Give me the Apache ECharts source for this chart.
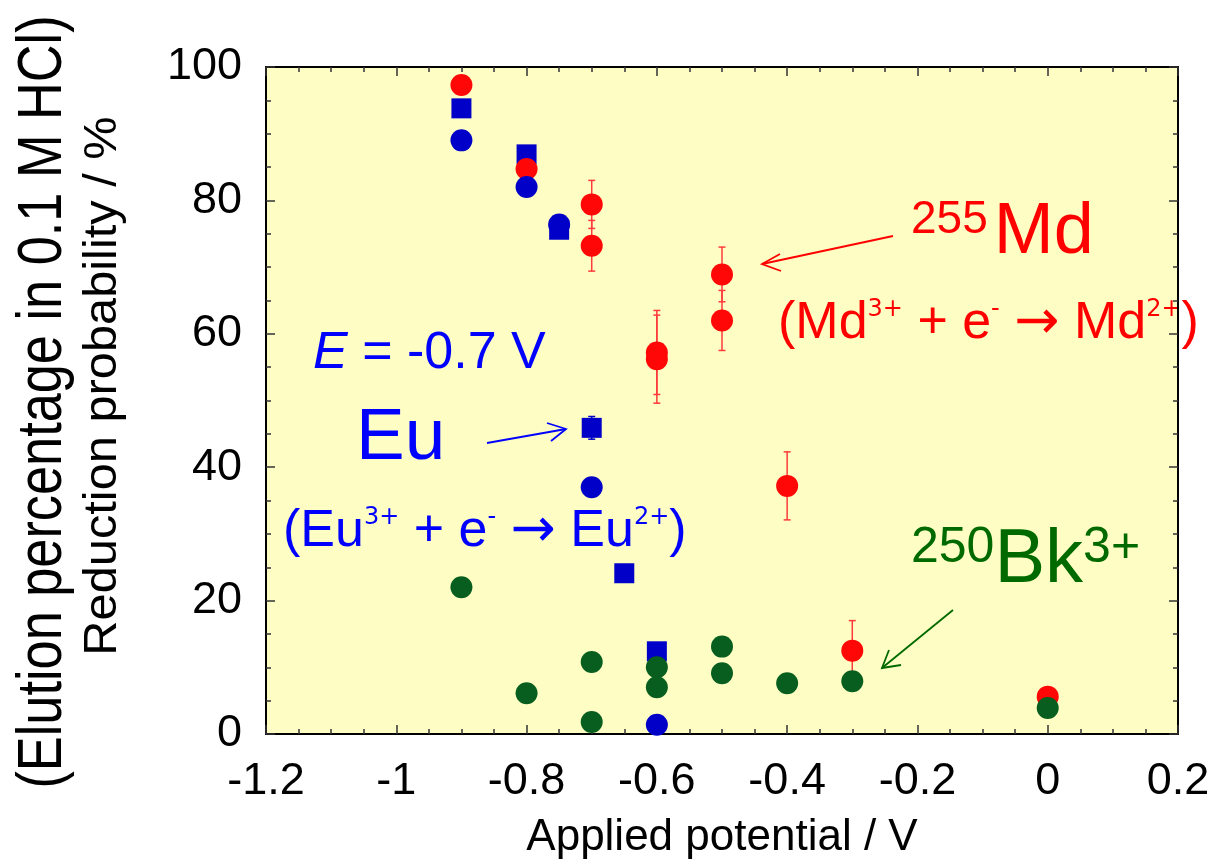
<!DOCTYPE html>
<html>
<head>
<meta charset="utf-8">
<script src="https://cdn.jsdelivr.net/npm/echarts@6/dist/echarts.min.js"></script>
<style>
  html, body { margin: 0; padding: 0; background: #fff; }
  #main { width: 1219px; height: 866px; }
</style>
</head>
<body>
<div id="main"></div>
<script>
// 255Md reduction probability (red circles, with error bars)
var mdX = [-0.9, -0.8, -0.7, -0.7, -0.6, -0.6, -0.5, -0.5, -0.4, -0.3, 0];
var mdY = [97.3, 84.7, 79.4, 73.2, 57.2, 56.2, 68.9, 62.0, 37.2, 12.5, 5.6];
var mdErr = [0, 0, 3.6, 3.8, 6.3, 6.6, 4.1, 4.5, 5.1, 4.5, 0];

// Eu (blue squares, blue circles)
var euSqX = [-0.9, -0.8, -0.75, -0.7, -0.65, -0.6];
var euSqY = [93.8, 86.9, 75.6, 45.9, 24.1, 12.4];
var euSqErr = [0, 0, 0, 1.7, 0, 0];
var euCiX = [-0.9, -0.8, -0.75, -0.7, -0.6];
var euCiY = [89.0, 82.0, 76.4, 37.0, 1.4];

// 250Bk3+ (green circles)
var bkX = [-0.9, -0.8, -0.7, -0.7, -0.6, -0.6, -0.5, -0.5, -0.4, -0.3, 0];
var bkY = [22.0, 6.1, 10.8, 1.8, 10.0, 7.0, 13.1, 9.1, 7.6, 7.9, 3.9];

var FONT = 'Liberation Sans, Arial, sans-serif';

function pairs(xs, ys) {
	return xs.map(function (x, i) { return [x, ys[i]]; });
}
function errData(xs, ys, es) {
	var out = [];
	xs.forEach(function (x, i) {
		if (es[i] > 0) out.push([x, ys[i] - es[i], ys[i] + es[i]]);
	});
	return out;
}
function errorBar(color) {
	return function (params, api) {
		var lo = api.coord([api.value(0), api.value(1)]);
		var hi = api.coord([api.value(0), api.value(2)]);
		var w = 3.5;
		var st = { stroke: color, lineWidth: 1.5 };
		return {
			type: 'group',
			children: [
				{ type: 'line', shape: { x1: lo[0], y1: lo[1], x2: hi[0], y2: hi[1] }, style: st },
				{ type: 'line', shape: { x1: lo[0] - w, y1: lo[1], x2: lo[0] + w, y2: lo[1] }, style: st },
				{ type: 'line', shape: { x1: hi[0] - w, y1: hi[1], x2: hi[0] + w, y2: hi[1] }, style: st }
			]
		};
	};
}

var tickLine = { color: '#333', width: 1.5 };
function xAx(pos, label) {
	return {
		type: 'value', position: pos, min: -1.2, max: 0.2, interval: 0.2,
		axisLine: { onZero: false, lineStyle: { color: '#000', width: 2 } },
		axisTick: { inside: true, length: 9, lineStyle: tickLine },
		minorTick: { show: true, splitNumber: 4, length: 5, lineStyle: tickLine },
		splitLine: { show: false },
		axisLabel: { show: label, fontSize: 45, fontFamily: FONT, color: '#000', margin: 25 },
		name: label ? 'Applied potential / V' : '',
		nameLocation: 'middle', nameGap: 82,
		nameTextStyle: { fontSize: 44, fontFamily: FONT, color: '#000' }
	};
}
function yAx(pos, label) {
	return {
		type: 'value', position: pos, min: 0, max: 100, interval: 20,
		axisLine: { onZero: false, lineStyle: { color: '#000', width: 2 } },
		axisTick: { inside: true, length: 9, lineStyle: tickLine },
		minorTick: { show: true, splitNumber: 4, length: 5, lineStyle: tickLine },
		splitLine: { show: false },
		axisLabel: { show: label, fontSize: 45, fontFamily: FONT, color: '#000', margin: 24, padding: [10, 0, 0, 0] }
	};
}

function equation(sym, color) {
	return {
		text: '{n|(' + sym + '}{s|3+}{n| + e}{m|-}{n| }{a|\u2192}{n| ' + sym + '}{s|2+}{n|)}',
		align: 'left', verticalAlign: 'top',
		rich: {
			n: { fontSize: 52, lineHeight: 52, fontFamily: FONT, fill: color },
			a: { fontSize: 54, lineHeight: 52, fontFamily: 'DejaVu Sans', fill: color },
			s: { fontSize: 24, lineHeight: 40, fontFamily: 'DejaVu Sans', fill: color, verticalAlign: 'top' },
			m: { fontSize: 24, lineHeight: 22, fontFamily: 'DejaVu Sans', fill: color, verticalAlign: 'top' }
		}
	};
}

var myChart = echarts.init(document.getElementById('main'));

var option = {
	backgroundColor: '#fff',
	animation: false,
	grid: { left: 266, right: 41, top: 67, bottom: 132, show: true, backgroundColor: '#fefec4', borderWidth: 0 },
	xAxis: [xAx('bottom', true), xAx('top', false)],
	yAxis: [yAx('left', true), yAx('right', false)],
	series: [
		{
			type: 'scatter', name: 'Eu square', symbol: 'rect', symbolSize: 20,
			itemStyle: { color: '#0000c8', opacity: 1 },
			data: pairs(euSqX, euSqY)
		},
		{
			type: 'custom', name: 'Eu err', renderItem: errorBar('#0000c8'),
			data: errData(euSqX, euSqY, euSqErr)
		},
		{
			type: 'custom', name: 'Md err', renderItem: errorBar('#ff3a3a'),
			data: errData(mdX, mdY, mdErr)
		},
		{
			type: 'scatter', name: '255Md', symbol: 'circle', symbolSize: 22,
			itemStyle: { color: '#ff0707', opacity: 1 },
			data: pairs(mdX, mdY)
		},
		{
			type: 'scatter', name: 'Eu circle', symbol: 'circle', symbolSize: 22,
			itemStyle: { color: '#0000c8', opacity: 1 },
			data: pairs(euCiX, euCiY)
		},
		{
			type: 'scatter', name: '250Bk', symbol: 'circle', symbolSize: 22,
			itemStyle: { color: '#075e1f', opacity: 1 },
			data: pairs(bkX, bkY)
		}
	],
	graphic: [
		// y axis titles
		{
			type: 'text', x: 44, y: 402, rotation: Math.PI / 2, scaleX: 0.83,
			style: { text: '(Elution percentage in 0.1 M HCl)', fontSize: 63, fontFamily: FONT, fill: '#000', align: 'center', verticalAlign: 'middle' }
		},
		{
			type: 'text', x: 103, y: 386, rotation: Math.PI / 2, scaleX: 1.06,
			style: { text: 'Reduction probability / %', fontSize: 46, fontFamily: FONT, fill: '#000', align: 'center', verticalAlign: 'middle' }
		},
		// 255Md
		{
			type: 'text', x: 911, y: 197,
			style: {
				text: '{s|255}{b|Md}', align: 'left', verticalAlign: 'top',
				rich: {
					s: { fontSize: 46, lineHeight: 46, fontFamily: FONT, fill: '#ff0000', verticalAlign: 'top' },
					b: { fontSize: 72, lineHeight: 72, fontFamily: FONT, fill: '#ff0000', padding: [0, 0, 0, 6] }
				}
			}
		},
		{ type: 'text', x: 778, y: 298, style: equation('Md', '#ff0000') },
		{ type: 'polyline', shape: { points: [[893, 236], [762, 264]] }, style: { stroke: '#ff0000', lineWidth: 1.8, fill: null } },
		{ type: 'polyline', shape: { points: [[780, 254], [762, 264], [781, 271]] }, style: { stroke: '#ff0000', lineWidth: 1.8, fill: null } },
		// Eu
		{
			type: 'text', x: 313, y: 354,
			style: {
				text: '{i|E}{n| = -0.7 V}', align: 'left', verticalAlign: 'middle',
				rich: {
					i: { fontSize: 52, fontStyle: 'italic', fontFamily: FONT, fill: '#0000ff' },
					n: { fontSize: 52, fontFamily: FONT, fill: '#0000ff' }
				}
			}
		},
		{
			type: 'text', x: 356, y: 439,
			style: { text: 'Eu', fontSize: 73, fontFamily: FONT, fill: '#0000ff', align: 'left', verticalAlign: 'middle' }
		},
		{ type: 'polyline', shape: { points: [[487, 443], [566, 429]] }, style: { stroke: '#0000ff', lineWidth: 1.8, fill: null } },
		{ type: 'polyline', shape: { points: [[547, 423], [566, 429], [551, 441]] }, style: { stroke: '#0000ff', lineWidth: 1.8, fill: null } },
		{ type: 'text', x: 283, y: 506, style: equation('Eu', '#0000ff') },
		// 250Bk3+
		{
			type: 'text', x: 911, y: 523,
			style: {
				text: '{s|250}{b|Bk}{s|3+}', align: 'left', verticalAlign: 'top',
				rich: {
					s: { fontSize: 50, lineHeight: 50, fontFamily: FONT, fill: '#006a00', verticalAlign: 'top' },
					b: { fontSize: 76, lineHeight: 76, fontFamily: FONT, fill: '#006a00' }
				}
			}
		},
		{ type: 'polyline', shape: { points: [[953, 610], [882, 668]] }, style: { stroke: '#006a00', lineWidth: 1.8, fill: null } },
		{ type: 'polyline', shape: { points: [[889, 650], [882, 668], [901, 665]] }, style: { stroke: '#006a00', lineWidth: 1.8, fill: null } }
	]
};

myChart.setOption(option);
</script>
</body>
</html>
